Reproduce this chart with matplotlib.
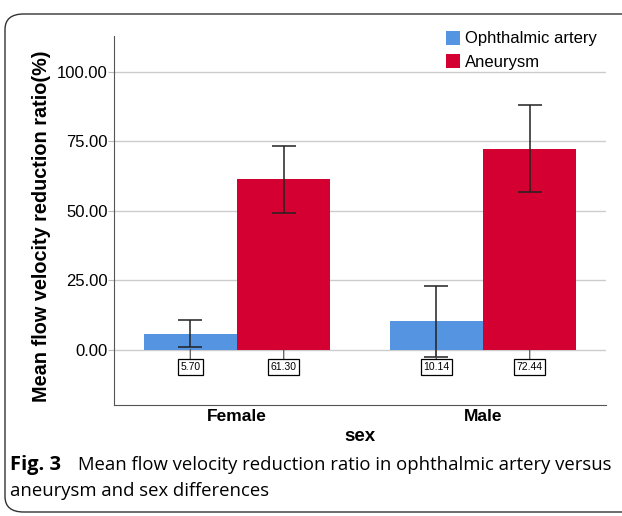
import matplotlib.pyplot as plt
from matplotlib.patches import FancyBboxPatch
import numpy as np

# data
groups = ["Female", "Male"]
series = ["Ophthalmic artery", "Aneurysm"]
ophthalmic = [5.70, 10.14]
aneurysm = [61.30, 72.44]
ophthalmic_err = [4.9, 12.85]
aneurysm_err = [12.2, 15.8]
yticks = [0, 25, 50, 75, 100]

colors = ["#5594e0", "#d50032"]
W, H = 622, 516

plt.rcParams["font.family"] = ["Liberation Sans", "DejaVu Sans"]

fig = plt.figure(figsize=(W / 100, H / 100), dpi=100)
ax = fig.add_axes([114 / W, 1 - 405 / H, 492 / W, 369 / H])

x = np.arange(len(groups))
bw = 0.38
for off, vals, errs, c, name in [(-bw / 2, ophthalmic, ophthalmic_err, colors[0], series[0]),
                                  (bw / 2, aneurysm, aneurysm_err, colors[1], series[1])]:
    ax.bar(x + off, vals, bw, color=c, label=name, zorder=2)
    ax.errorbar(x + off, vals, yerr=errs, fmt="none", ecolor="#222222",
                elinewidth=1.1, capsize=8.3, capthick=1.1, zorder=3)
    # value boxes under each bar
    for xi, v in zip(x + off, vals):
        ax.annotate(f"{v:.2f}", xy=(xi, 0), xytext=(xi, -6.3), ha="center", va="center",
                    fontsize=7.5, zorder=4,
                    bbox=dict(boxstyle="square,pad=0.25", fc="white", ec="black", lw=0.9),
                    arrowprops=dict(arrowstyle="-", color="#444444", lw=0.8, shrinkA=0, shrinkB=0))

ax.set_xlim(-0.5, 1.5)
ax.set_ylim(-20, 113)
ax.set_yticks(yticks)
ax.set_yticklabels([f"{t:.2f}" for t in yticks], fontsize=12)
ax.set_xticks(x)
ax.set_xticklabels(groups, fontsize=12.5, fontweight="bold")
ax.tick_params(axis="x", length=0, pad=3)
ax.tick_params(axis="y", length=4, color="#bbbbbb", pad=0.5)
ax.grid(axis="y", color="#cccccc", lw=1, zorder=0)
ax.set_axisbelow(True)
for s in ["top", "right"]:
    ax.spines[s].set_visible(False)
for s in ["left", "bottom"]:
    ax.spines[s].set_color("#555555")

ax.set_ylabel("Mean flow velocity reduction ratio(%)", fontsize=14.3, fontweight="bold")
ax.yaxis.set_label_coords(-0.128, 0.485)
ax.set_xlabel("sex", fontsize=13.5, fontweight="bold", labelpad=3)

ax.legend(loc="upper right", bbox_to_anchor=(1.012, 1.055), frameon=False, fontsize=12,
          handlelength=0.85, handleheight=0.9, handletextpad=0.3, labelspacing=0.45)

# caption and rounded frame
fig.text(10 / W, 1 - 470 / H, "Fig. 3", fontsize=14.5, fontweight="bold",
         family=["Open Sans", "DejaVu Sans"], va="baseline")
fig.text(78 / W, 1 - 470 / H, "Mean flow velocity reduction ratio in ophthalmic artery versus",
         fontsize=13.3, family=["Open Sans", "DejaVu Sans"], va="baseline")
fig.text(10 / W, 1 - 496 / H, "aneurysm and sex differences",
         fontsize=13.3, family=["Open Sans", "DejaVu Sans"], va="baseline")

frame = FancyBboxPatch((5 / W, 1 - 512 / H), 640 / W, 498 / H, transform=fig.transFigure,
                       boxstyle="round,pad=0,rounding_size=0.03", fc="none", ec="#333333", lw=1)
fig.patches.append(frame)

fig.savefig("out.png", dpi=100)
